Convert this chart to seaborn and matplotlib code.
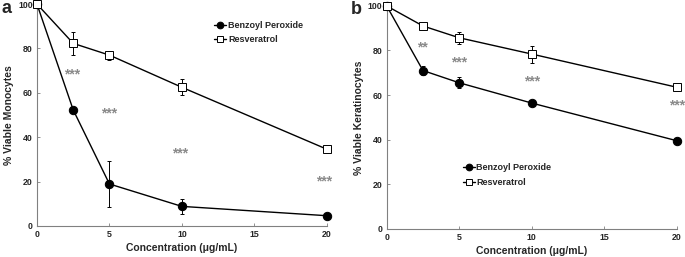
import numpy as np
import pandas as pd
import seaborn as sns
import matplotlib.pyplot as plt

# concentraciones (ug/mL)
conc = [0, 2.5, 5, 10, 20]

# panel a - monocitos
mono_bpo = [100, 52.3, 18.9, 8.8, 4.6]
mono_bpo_err = [0.5, 1.5, 10.4, 3.4, 0.6]
mono_res = [100, 82.3, 77.0, 62.5, 34.6]
mono_res_err = [0.5, 5.2, 2.0, 3.7, 1.4]
mono_stars = ["***", "***", "***", "***"]
mono_star_x = [2.4, 5.0, 9.9, 19.85]
mono_star_y = [68.5, 50.5, 32.7, 20.0]

# panel b - queratinocitos
kera_bpo = [100, 71.0, 65.5, 56.4, 39.5]
kera_bpo_err = [0.5, 2.0, 2.5, 1.0, 1.0]
kera_res = [100, 91.0, 85.7, 78.4, 63.5]
kera_res_err = [0.5, 1.0, 2.6, 3.8, 1.4]
kera_stars = ["**", "***", "***", "***"]
kera_star_x = [2.45, 5.0, 10.0, 20.0]
kera_star_y = [81.3, 74.5, 66.3, 55.5]

sns.set_style("white")
plt.rcParams['font.family'] = ['Liberation Sans', 'DejaVu Sans']
plt.rcParams['font.weight'] = 'bold'

fig = plt.figure(figsize=(6.85, 2.57), dpi=100)
ax_a = fig.add_axes([0.054, 0.121, 0.423, 0.863])
ax_b = fig.add_axes([0.5645, 0.110, 0.4235, 0.867])


def draw_panel(ax, bpo, bpo_err, res, res_err, stars, sx, sy, ylabel, legend_pos):
    df_b = pd.DataFrame({'conc': conc, 'val': bpo})
    df_r = pd.DataFrame({'conc': conc, 'val': res})
    ax.errorbar(conc, bpo, yerr=bpo_err, fmt='none', ecolor='black',
                elinewidth=0.7, capsize=1.5, capthick=0.7, clip_on=False, zorder=2)
    ax.errorbar(conc, res, yerr=res_err, fmt='none', ecolor='black',
                elinewidth=0.7, capsize=1.5, capthick=0.7, clip_on=False, zorder=2)
    sns.lineplot(data=df_b, x='conc', y='val', ax=ax, color='black', lw=1.0,
                 marker='o', markersize=6, markerfacecolor='black',
                 markeredgecolor='black', label='Benzoyl Peroxide',
                 clip_on=False, zorder=4)
    sns.lineplot(data=df_r, x='conc', y='val', ax=ax, color='black', lw=1.0,
                 marker='s', markersize=6, markerfacecolor='white',
                 markeredgecolor='black', markeredgewidth=0.7,
                 label='Resveratrol', clip_on=False, zorder=5)
    for s, x, y in zip(stars, sx, sy):
        ax.text(x, y, s, color='#8a8a8a', fontsize=10, ha='center', va='center',
                clip_on=False)
    ax.set_xlim(0, 20)
    ax.set_ylim(0, 100)
    ax.set_xticks([0, 5, 10, 15, 20])
    ax.set_yticks([0, 20, 40, 60, 80, 100])
    ax.tick_params(labelsize=6.3, length=2, width=0.6, color='#808080',
                   direction='in', left=True, bottom=True, pad=3)
    for lab in ax.get_xticklabels() + ax.get_yticklabels():
        lab.set_fontweight('bold')
    sns.despine(ax=ax)
    for sp in ['left', 'bottom']:
        ax.spines[sp].set_color('#808080')
        ax.spines[sp].set_linewidth(0.8)
    ax.set_xlabel('Concentration (μg/mL)', fontsize=7.5, fontweight='bold', labelpad=3)
    ax.set_ylabel(ylabel, fontsize=7.5, fontweight='bold', labelpad=3)
    ax.legend(loc='upper left', bbox_to_anchor=legend_pos, frameon=False,
              fontsize=6.5, handlelength=1.3, handletextpad=0.2,
              labelspacing=0.6, markerscale=0.8, borderaxespad=0)


draw_panel(ax_a, mono_bpo, mono_bpo_err, mono_res, mono_res_err,
           mono_stars, mono_star_x, mono_star_y, '% Viable Monocytes',
           (0.6, 0.94))
draw_panel(ax_b, kera_bpo, kera_bpo_err, kera_res, kera_res_err,
           kera_stars, kera_star_x, kera_star_y, '% Viable Keratinocytes',
           (0.25, 0.31))

fig.text(0.002, 1.0, 'a', fontsize=13, fontweight='bold', ha='left', va='top')
fig.text(0.512, 0.995, 'b', fontsize=13, fontweight='bold', ha='left', va='top')

fig.savefig('out.png', dpi=100)
